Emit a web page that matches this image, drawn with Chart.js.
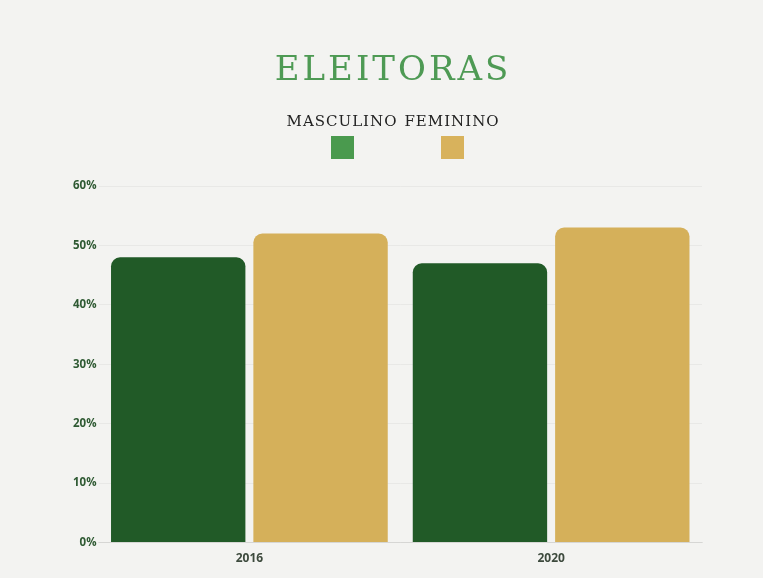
<!DOCTYPE html>
<html>
<head>
<meta charset="utf-8">
<script src="https://cdn.jsdelivr.net/npm/chart.js@4"></script>
<style>
  html, body { margin: 0; padding: 0; background: #f3f3f1; }
  #wrap { position: relative; width: 763px; height: 578px; }
</style>
</head>
<body>
<div id="wrap"><canvas id="eleitoras" width="763" height="578"></canvas></div>
<script>
var years = ["2016", "2020"];
var masculino = [48, 47];
var feminino = [52, 53];
var yTicks = [0, 10, 20, 30, 40, 50, 60];
var seriesNames = ["MASCULINO", "FEMININO"];
var barColors = ["#215a27", "#d5b05a"];
var legendColors = ["#4a9a4e", "#d8b25c"];

// title + legend drawn above the plot (legend text sits over its box)
var headerPlugin = {
    id: 'header',
    afterDraw: function(chart) {
        var ctx = chart.ctx;
        ctx.save();
        ctx.textAlign = 'center';
        ctx.textBaseline = 'middle';
        ctx.fillStyle = '#4e9a54';
        ctx.font = '34px "DejaVu Serif"';
        ctx.letterSpacing = '3px';
        ctx.fillText('ELEITORAS', 393, 71);

        ctx.font = '15px "DejaVu Serif"';
        ctx.letterSpacing = '1px';
        var centers = [342, 452];
        chart.data.datasets.forEach(function(ds, i) {
            ctx.fillStyle = '#222';
            ctx.fillText(ds.label, centers[i], 122);
            ctx.fillStyle = legendColors[i];
            ctx.fillRect(centers[i] - 11, 136, 23, 23);
        });
        ctx.restore();
    }
};

new Chart(document.getElementById('eleitoras').getContext('2d'), {
    type: 'bar',
    data: {
        labels: years,
        datasets: [{
            label: seriesNames[0],
            data: masculino,
            backgroundColor: barColors[0]
        }, {
            label: seriesNames[1],
            data: feminino,
            backgroundColor: barColors[1]
        }]
    },
    options: {
        responsive: false,
        animation: false,
        layout: { padding: { top: 186, left: 71, right: 61, bottom: 11 } },
        datasets: {
            bar: {
                categoryPercentage: 0.9435,
                barPercentage: 0.944,
                borderRadius: { topLeft: 9, topRight: 9 },
                borderSkipped: 'start'
            }
        },
        plugins: {
            legend: { display: false },
            tooltip: { enabled: false }
        },
        scales: {
            x: {
                grid: { display: false },
                border: { color: 'rgba(0,0,0,0.08)' },
                ticks: {
                    color: '#3d4a3d',
                    font: { family: '"Open Sans"', size: 12, weight: 'bold' },
                    padding: 1
                }
            },
            y: {
                min: 0,
                max: 60,
                afterBuildTicks: function(axis) {
                    axis.ticks = yTicks.map(function(v) { return { value: v }; });
                },
                grid: { color: 'rgba(0,0,0,0.045)', drawTicks: false },
                border: { display: false },
                ticks: {
                    color: '#2f5a33',
                    font: { family: '"Open Sans"', size: 11.5, weight: 'bold' },
                    padding: 2,
                    callback: function(v) { return v + '%'; }
                }
            }
        }
    },
    plugins: [headerPlugin]
});
</script>
</body>
</html>
